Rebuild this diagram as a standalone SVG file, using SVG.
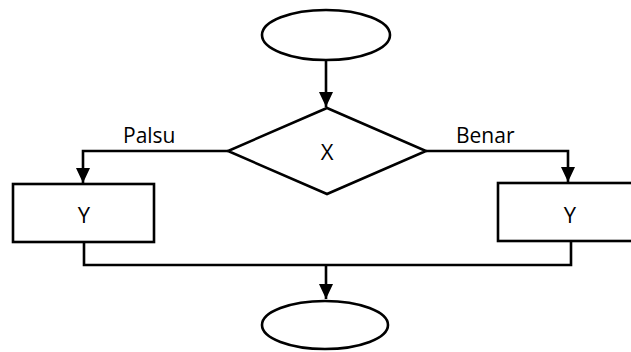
<svg xmlns="http://www.w3.org/2000/svg" width="631" height="352" viewBox="0 0 631 352">
<defs>
<style>
.shape{fill:#fff;stroke:#000;stroke-width:2.6}
.conn{fill:none;stroke:#000;stroke-width:2.6}
.lbl{font-family:"Open Sans","Liberation Sans",sans-serif;font-size:21px;fill:#000}
.big{font-size:22px}
</style>
<marker id="arr" markerUnits="userSpaceOnUse" markerWidth="15" markerHeight="14" viewBox="0 0 15 14" refX="15" refY="7" orient="auto">
<path d="M0,0 L15,7 L0,14 Z" fill="#000"/>
</marker>
</defs>
<rect width="631" height="352" fill="#fff"/>
<g id="connectors">
<path class="conn" d="M326,60 V107" marker-end="url(#arr)"/>
<path class="conn" d="M228,151 H83 V183" marker-end="url(#arr)"/>
<path class="conn" d="M426,151 H568 V182" marker-end="url(#arr)"/>
<path class="conn" d="M84,242 V265 H571 V241"/>
<path class="conn" d="M326,265 V299" marker-end="url(#arr)"/>
<text class="lbl" x="123" y="143">Palsu</text>
<text class="lbl" x="456" y="143">Benar</text>
</g>
<g id="start"><ellipse class="shape" cx="326" cy="35" rx="64" ry="25"/></g>
<g id="decision"><polygon class="shape" points="327,108 426,151 327,194 228,151"/><text class="lbl big" x="327" y="160" text-anchor="middle">X</text></g>
<g id="procFalse"><rect class="shape" x="13" y="184" width="141" height="58"/><text class="lbl big" x="84" y="223" text-anchor="middle">Y</text></g>
<g id="procTrue"><rect class="shape" x="498" y="183" width="160" height="58"/><text class="lbl big" x="570" y="223" text-anchor="middle">Y</text></g>
<g id="end"><ellipse class="shape" cx="325" cy="325" rx="63" ry="24"/></g>
</svg>
